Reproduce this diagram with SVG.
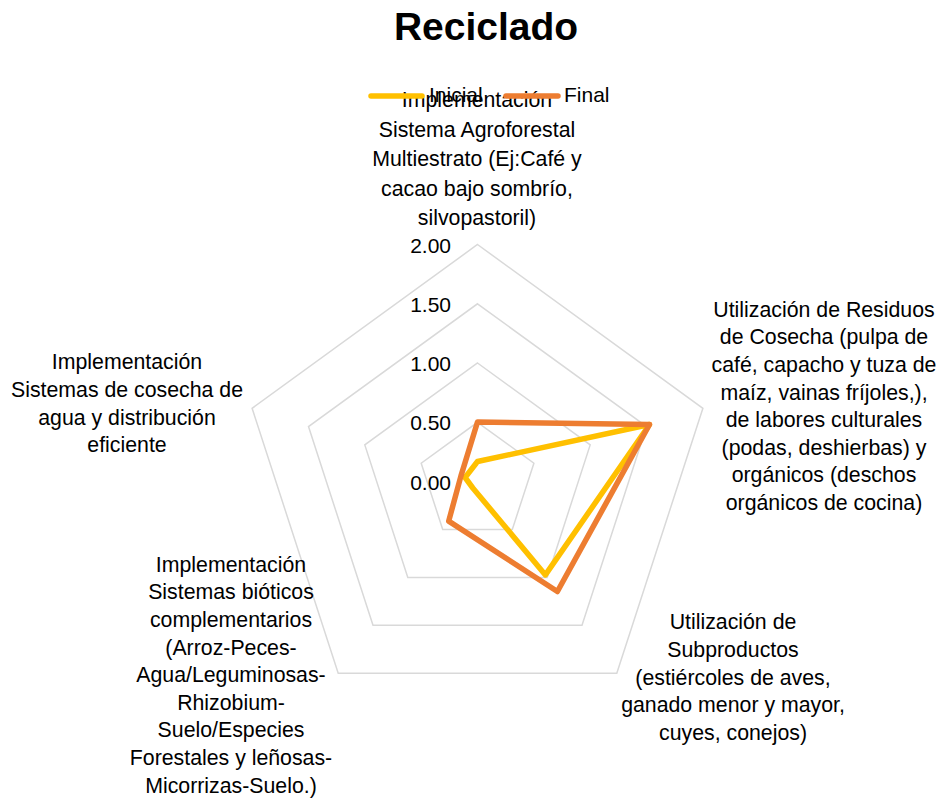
<svg xmlns="http://www.w3.org/2000/svg" width="943" height="809" viewBox="0 0 943 809">
<style>
text{font-family:"Liberation Sans",Arial,sans-serif;fill:#000}
.t{font-size:39px;font-weight:bold}
.lbl{font-size:21.3px;text-anchor:middle}
.val{font-size:21px;text-anchor:end}
.leg{font-size:21px}
.grid{fill:none;stroke:#D9D9D9;stroke-width:1.5}
.s{fill:none;stroke-width:5.5;stroke-linejoin:round;stroke-linecap:round}
.ini{stroke:#FFC000}
.fin{stroke:#ED7D31}
</style>
<rect width="943" height="809" fill="#fff"/>
<g id="title"><text class="t" x="486" y="40" text-anchor="middle">Reciclado</text></g>
<g id="grid">
<polygon class="grid" points="477.5,244.5 702.9,408.3 616.8,673.2 338.2,673.2 252.1,408.3"/>
<polygon class="grid" points="477.5,303.8 646.6,426.6 582,625.3 373,625.3 308.5,426.6"/>
<polygon class="grid" points="477.5,363 590.2,444.9 547.2,577.4 407.8,577.4 364.8,444.9"/>
<polygon class="grid" points="477.5,422.3 533.9,463.2 512.3,529.4 442.7,529.4 421.2,463.2"/>
</g>
<g id="axis-values">
<text class="val" x="451" y="252.5">2.00</text>
<text class="val" x="451" y="311.7">1.50</text>
<text class="val" x="451" y="371.3">1.00</text>
<text class="val" x="451" y="430.3">0.50</text>
<text class="val" x="451" y="489.5">0.00</text>
</g>
<g id="cat-top">
<text class="lbl" x="477" y="107">Implementación</text>
<text class="lbl" x="477" y="136.5">Sistema Agroforestal</text>
<text class="lbl" x="477" y="166">Multiestrato (Ej:Café y</text>
<text class="lbl" x="477" y="195.5">cacao bajo sombrío,</text>
<text class="lbl" x="477" y="225">silvopastoril)</text>
</g>
<g id="cat-right">
<text class="lbl" x="824" y="316.7">Utilización de Residuos</text>
<text class="lbl" x="824" y="344.3">de Cosecha (pulpa de</text>
<text class="lbl" x="824" y="371.9">café, capacho y tuza de</text>
<text class="lbl" x="824" y="399.5">maíz, vainas fríjoles,),</text>
<text class="lbl" x="824" y="427.1">de labores culturales</text>
<text class="lbl" x="824" y="454.7">(podas, deshierbas) y</text>
<text class="lbl" x="824" y="482.3">orgánicos (deschos</text>
<text class="lbl" x="824" y="509.9">orgánicos de cocina)</text>
</g>
<g id="cat-lower-right">
<text class="lbl" x="733" y="629.3">Utilización de</text>
<text class="lbl" x="733" y="656.9">Subproductos</text>
<text class="lbl" x="733" y="684.5">(estiércoles de aves,</text>
<text class="lbl" x="733" y="712.1">ganado menor y mayor,</text>
<text class="lbl" x="733" y="739.7">cuyes, conejos)</text>
</g>
<g id="cat-lower-left">
<text class="lbl" x="231" y="571.7">Implementación</text>
<text class="lbl" x="231" y="599.3">Sistemas bióticos</text>
<text class="lbl" x="231" y="626.9">complementarios</text>
<text class="lbl" x="231" y="654.5">(Arroz-Peces-</text>
<text class="lbl" x="231" y="682.1">Agua/Leguminosas-</text>
<text class="lbl" x="231" y="709.7">Rhizobium-</text>
<text class="lbl" x="231" y="737.3">Suelo/Especies</text>
<text class="lbl" x="231" y="764.9">Forestales y leñosas-</text>
<text class="lbl" x="231" y="792.5">Micorrizas-Suelo.)</text>
</g>
<g id="cat-left">
<text class="lbl" x="127" y="369.3">Implementación</text>
<text class="lbl" x="127" y="396.9">Sistemas de cosecha de</text>
<text class="lbl" x="127" y="424.5">agua y distribución</text>
<text class="lbl" x="127" y="452.1">eficiente</text>
</g>
<g id="series">
<polygon id="inicial" class="s ini" points="477.5,461.5 649.5,424.5 545.4,574.9 472.8,488 465.1,477.5"/>
<polygon id="final" class="s fin" points="477.5,422 649.5,424.5 557.4,591.5 448.7,521.1 460.9,476.1"/>
</g>
<g id="legend">
<line class="s ini" x1="371" y1="96" x2="422" y2="96"/>
<text class="leg" x="429" y="102">Inicial</text>
<line class="s fin" x1="506" y1="96" x2="558" y2="96"/>
<text class="leg" x="564" y="102">Final</text>
</g>
</svg>
